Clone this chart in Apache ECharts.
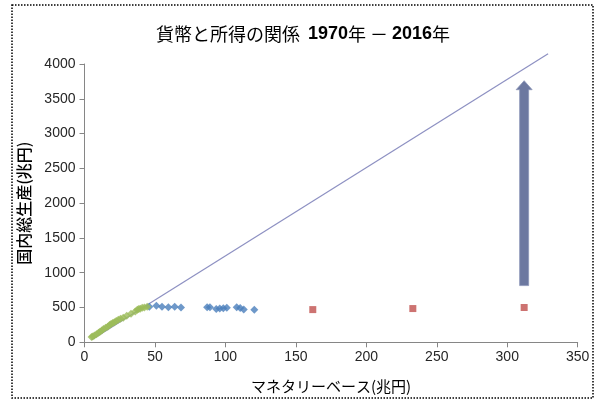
<!DOCTYPE html>
<html>
<head>
<meta charset="utf-8">
<script src="https://cdn.jsdelivr.net/npm/echarts@6/dist/echarts.min.js"></script>
<style>
html,body{margin:0;padding:0;background:#fff;}
#chart{width:597px;height:401px;}
</style>
</head>
<body>
<div id="chart"></div>
<script>
// 1970–1996: monetary base (trillion yen) vs nominal GDP (trillion yen)
const greenMB  = [5.0, 5.8, 7.0, 8.5, 10.0, 11.0, 12.3, 13.5, 15.0, 16.5, 17.8, 18.8, 20.0, 21.2, 22.5, 24.0, 25.6, 27.5, 30.0, 33.0, 36.0, 37.5, 38.5, 39.5, 41.0, 42.5, 44.5];
const greenGDP = [ 75,  83,  96, 116, 138, 152, 171, 190, 208, 225, 248, 264, 276, 288, 306, 325, 340, 354, 380, 410, 443, 469, 480, 483, 495, 501, 511];
// 1997–2012
const blueMB   = [46, 51, 55, 59.5, 64, 68.5, 87, 89, 93.5, 96, 98.5, 101, 108, 110.5, 113, 120.5];
const blueGDP  = [512, 525, 512, 504, 510, 499, 503, 505, 478, 486, 488, 498, 503, 493, 470, 468];
// 2013–2016
const redMB    = [162, 233, 312];
const redGDP   = [470, 485, 500];
// proportional trend line
const lineMB   = [5, 329];
const lineGDP  = [36, 4148];
// arrow: x, from, to
const arrowMB = 312, arrowFrom = 815, arrowTo = 3760;

const xTicks = [0, 50, 100, 150, 200, 250, 300, 350];
const yTicks = [0, 500, 1000, 1500, 2000, 2500, 3000, 3500, 4000];

const zip = (a, b) => a.map((v, i) => [v, b[i]]);

const chart = echarts.init(document.getElementById('chart'), null, {renderer: 'canvas'});
const axisFont = {fontFamily: 'Liberation Sans', fontSize: 14, color: '#262626'};

chart.setOption({
  animation: false,
  backgroundColor: '#fff',
  title: {
    text: '貨幣と所得の関係  {b|1970}年 － {b|2016}年',
    left: 298, top: 20, textAlign: 'center',
    textStyle: {
      fontFamily: 'Noto Sans CJK JP', fontSize: 18, fontWeight: 'normal', color: '#000',
      rich: {b: {fontFamily: 'Liberation Sans', fontSize: 18, fontWeight: 'bold', color: '#000'}}
    }
  },
  grid: {left: 84.5, right: 19.3, top: 64, bottom: 58.7},
  xAxis: {
    type: 'value', min: 0, max: 350, interval: 50,
    name: 'マネタリーベース(兆円)', nameLocation: 'middle', nameGap: 36,
    nameTextStyle: {fontFamily: 'Noto Sans CJK JP', fontSize: 15, color: '#000'},
    axisLine: {show: true, lineStyle: {color: '#868686', width: 1}},
    axisTick: {show: true, length: 5, lineStyle: {color: '#868686'}},
    axisLabel: Object.assign({margin: 8, formatter: v => xTicks.includes(v) ? String(v) : ''}, axisFont),
    splitLine: {show: false}
  },
  yAxis: {
    type: 'value', min: 0, max: 4000, interval: 500,
    name: '国内総生産(兆円)', nameLocation: 'middle', nameGap: 53, nameRotate: 90,
    nameTextStyle: {fontFamily: 'Noto Sans CJK JP', fontSize: 16, fontWeight: 500, color: '#000'},
    axisLine: {show: true, lineStyle: {color: '#868686', width: 1}},
    axisTick: {show: true, length: 5, lineStyle: {color: '#868686'}},
    axisLabel: Object.assign({margin: 9, formatter: v => yTicks.includes(v) ? String(v) : ''}, axisFont),
    splitLine: {show: false}
  },
  graphic: [{
    type: 'rect', silent: true, z: 100,
    shape: {x: 12, y: 5, width: 581, height: 393},
    style: {fill: null, stroke: '#000', lineWidth: 1.5, lineDash: [1.5, 1.5]}
  }],
  series: [
    {
      type: 'line', data: zip(lineMB, lineGDP), symbol: 'none', z: 1, clip: false,
      lineStyle: {color: '#8d90c2', width: 1.2}
    },
    {
      type: 'scatter', data: zip(greenMB, greenGDP), symbol: 'diamond', symbolSize: 8, z: 3,
      itemStyle: {color: '#9bbb59'}
    },
    {
      type: 'scatter', data: zip(blueMB, blueGDP), symbol: 'diamond', symbolSize: 8, z: 2,
      itemStyle: {color: '#4a7ebb'}
    },
    {
      type: 'scatter', data: zip(redMB, redGDP), symbol: 'rect', symbolSize: 7, z: 2,
      itemStyle: {color: '#c0504d'}
    },
    {
      type: 'custom', z: 4, clip: false,
      data: [[arrowMB, arrowFrom, arrowTo]],
      renderItem: function (params, api) {
        const base = api.coord([api.value(0), api.value(1)]);
        const tip = api.coord([api.value(0), api.value(2)]);
        const cx = base[0], bw = 4.5, hw = 8, hl = 9;
        return {
          type: 'polygon',
          shape: {points: [
            [cx - bw, base[1]], [cx - bw, tip[1] + hl], [cx - hw, tip[1] + hl],
            [cx, tip[1]], [cx + hw, tip[1] + hl], [cx + bw, tip[1] + hl], [cx + bw, base[1]]
          ]},
          style: {fill: '#6c78a0', stroke: '#8c96b8', lineWidth: 0.8}
        };
      }
    }
  ]
});
</script>
</body>
</html>
